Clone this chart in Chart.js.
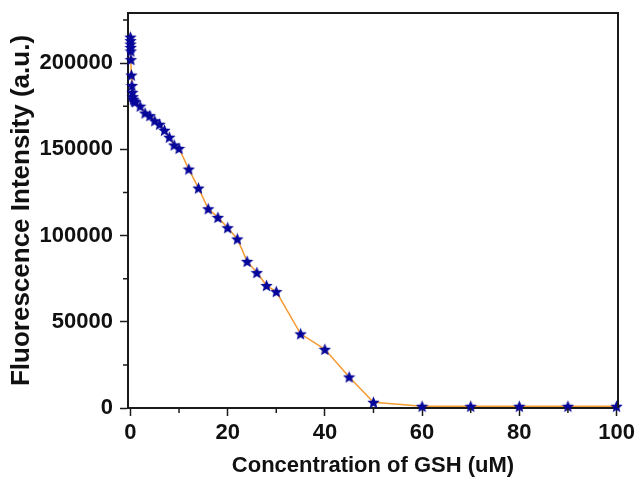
<!DOCTYPE html>
<html>
<head>
<meta charset="utf-8">
<script src="https://cdn.jsdelivr.net/npm/chart.js@4"></script>
<style>
    html, body { margin: 0; padding: 0; background: #fff; }
    #wrap { width: 637px; height: 481px; position: relative; }
</style>
</head>
<body>
<div id="wrap"><canvas id="chart"></canvas></div>
<script>
// GSH concentration (uM) vs fluorescence intensity.
const concentration = [0, 0.02, 0.04, 0.06, 0.08, 0.1, 0.2, 0.3, 0.4, 0.5, 0.6, 0.8,
    1, 2, 3, 4, 5, 6, 7, 8, 9, 10, 12, 14, 16, 18, 20, 22, 24, 26, 28, 30,
    35, 40, 45, 50, 60, 70, 80, 90, 100];
const intensity = [215000, 213000, 211000, 209000, 207000, 202000, 193000, 187000, 183000, 180500, 179000, 178000,
    177500, 175000, 171000, 169500, 166500, 164500, 161000, 157000, 152500, 150500, 138500, 127500, 115500, 110500, 104500, 98000, 85000, 78500, 71000, 67500,
    43000, 34000, 18000, 3300, 1000, 1000, 1000, 1000, 1000];

const xTicks = [0, 20, 40, 60, 80, 100];
const xMinorTicks = [10, 30, 50, 70, 90];
const yTicks = [0, 50000, 100000, 150000, 200000];
const yMinorTicks = [25000, 75000, 125000, 175000, 225000];

const axisColor = '#1a1a1a';
const textFont = 'Liberation Sans, Arial, sans-serif';

// Filled five-point star used as the marker.
function makeStar(size, color) {
    const c = document.createElement('canvas');
    c.width = size;
    c.height = size;
    const ctx = c.getContext('2d');
    const cx = size / 2, cy = size / 2 + 0.6;
    const outer = size / 2, inner = outer * 0.45;
    ctx.beginPath();
    for (let i = 0; i < 10; i++) {
        const r = i % 2 === 0 ? outer : inner;
        const a = -Math.PI / 2 + i * Math.PI / 5;
        const px = cx + r * Math.cos(a), py = cy + r * Math.sin(a);
        if (i === 0) ctx.moveTo(px, py); else ctx.lineTo(px, py);
    }
    ctx.closePath();
    ctx.fillStyle = color;
    ctx.fill();
    return c;
}

// Box frame plus the short unlabelled minor ticks.
const frame = {
    id: 'frame',
    afterDraw(chart) {
        const { ctx, chartArea: a, scales } = chart;
        ctx.save();
        ctx.strokeStyle = axisColor;
        ctx.lineWidth = 2;
        ctx.beginPath();
        ctx.moveTo(a.left, a.top);
        ctx.lineTo(a.right, a.top);
        ctx.lineTo(a.right, a.bottom);
        ctx.stroke();
        ctx.lineWidth = 1.5;
        ctx.beginPath();
        xMinorTicks.forEach(v => {
            const px = scales.x.getPixelForValue(v);
            ctx.moveTo(px, a.bottom);
            ctx.lineTo(px, a.bottom + 5);
        });
        yMinorTicks.forEach(v => {
            const py = scales.y.getPixelForValue(v);
            ctx.moveTo(a.left, py);
            ctx.lineTo(a.left - 5, py);
        });
        ctx.stroke();
        ctx.restore();
    }
};

const points = concentration.map((c, i) => ({ x: c, y: intensity[i] }));

new Chart(document.getElementById('chart'), {
    type: 'line',
    data: {
        datasets: [{
            data: points,
            borderColor: '#f39a32',
            borderWidth: 1.5,
            tension: 0,
            pointStyle: makeStar(13, '#06069a'),
            pointRadius: 6,
            clip: false
        }]
    },
    options: {
        responsive: true,
        maintainAspectRatio: false,
        animation: false,
        events: [],
        layout: { padding: { top: 13, right: 19, left: 0, bottom: 0 } },
        plugins: { legend: { display: false }, tooltip: { enabled: false } },
        scales: {
            x: {
                type: 'linear',
                min: -0.5,
                max: 100.3,
                afterBuildTicks: s => { s.ticks = xTicks.map(v => ({ value: v })); },
                afterFit: s => { s.height = 73; s.paddingLeft = 0; s.paddingRight = 0; },
                border: { color: axisColor, width: 2 },
                grid: { drawOnChartArea: false, drawTicks: true, tickLength: 8, tickColor: axisColor, tickWidth: 1.5 },
                ticks: {
                    color: '#111', padding: 4, maxRotation: 0,
                    callback: v => String(v),
                    font: { family: textFont, size: 22, weight: 'bold' }
                },
                title: {
                    display: true,
                    text: 'Concentration of GSH (uM)',
                    color: '#111',
                    padding: { top: 0, bottom: 2 },
                    font: { family: textFont, size: 22, weight: 'bold' }
                }
            },
            y: {
                type: 'linear',
                min: 0,
                max: 229000,
                afterBuildTicks: s => { s.ticks = yTicks.map(v => ({ value: v })); },
                afterFit: s => { s.width = 128; s.paddingTop = 0; s.paddingBottom = 0; },
                border: { color: axisColor, width: 2 },
                grid: { drawOnChartArea: false, drawTicks: true, tickLength: 8, tickColor: axisColor, tickWidth: 1.5 },
                ticks: {
                    color: '#111', padding: 7,
                    callback: v => String(v),
                    font: { family: textFont, size: 22, weight: 'bold' }
                },
                title: {
                    display: true,
                    text: 'Fluorescence Intensity (a.u.)',
                    color: '#111',
                    padding: { top: 6, bottom: 0 },
                    font: { family: textFont, size: 26, weight: 'bold' }
                }
            }
        }
    },
    plugins: [frame]
});
</script>
</body>
</html>
